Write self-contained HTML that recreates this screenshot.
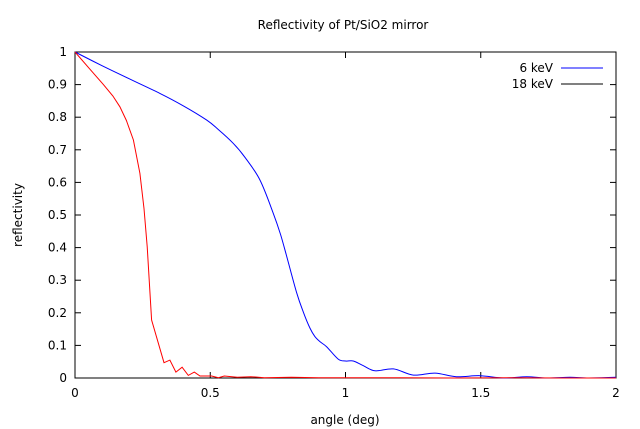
<!DOCTYPE html>
<html><head><meta charset="utf-8"><style>
body{margin:0;background:#fff;}
svg{display:block;font-family:"DejaVu Sans","Liberation Sans",sans-serif;font-size:12px;}
</style></head><body>
<svg id="chart" width="640" height="429">
<text x="343" y="29" text-anchor="middle">Reflectivity of Pt/SiO2 mirror</text>
<text x="345" y="424" text-anchor="middle">angle (deg)</text>
<text transform="translate(22,215) rotate(-90)" text-anchor="middle">reflectivity</text>
<g id="axes"></g>
<g id="series"></g>
<text x="553" y="72" text-anchor="end">6 keV</text>
<line x1="561" y1="68" x2="603" y2="68" stroke="#0000ff"/>
<text x="553" y="88" text-anchor="end">18 keV</text>
<line x1="561" y1="84" x2="603" y2="84" stroke="#000"/>
</svg>
<script>
const xTicks=[0,0.5,1,1.5,2];
const xTickLabels=["0","0.5","1","1.5","2"];
const yTicks=[0,0.1,0.2,0.3,0.4,0.5,0.6,0.7,0.8,0.9,1];
const yTickLabels=["0","0.1","0.2","0.3","0.4","0.5","0.6","0.7","0.8","0.9","1"];
const x6=[0,0.1,0.2,0.314,0.4,0.487,0.53,0.585,0.63,0.684,0.733,0.76,0.783,0.82,0.845,0.869,0.887,0.906,0.93,0.973,1.0,1.029,1.065,1.109,1.177,1.251,1.331,1.41,1.497,1.583,1.67,1.744,1.83,1.9,2.0];
const y6=[1,0.958,0.918,0.873,0.835,0.791,0.762,0.72,0.675,0.607,0.505,0.44,0.372,0.26,0.2,0.152,0.127,0.111,0.096,0.058,0.052,0.052,0.038,0.022,0.028,0.009,0.015,0.004,0.007,0.0,0.004,0,0.002,0,0.002];
const x18=[0,0.05,0.105,0.14,0.166,0.19,0.216,0.24,0.255,0.267,0.283,0.329,0.351,0.373,0.396,0.419,0.441,0.462,0.505,0.53,0.552,0.6,0.65,0.7,0.8,0.9,1.0,1.2,1.4,1.6,1.8,2.0];
const y18=[1,0.952,0.9,0.865,0.832,0.79,0.73,0.628,0.52,0.403,0.178,0.047,0.055,0.018,0.033,0.008,0.018,0.006,0.006,0.001,0.006,0.002,0.004,0.001,0.002,0.001,0.001,0.001,0.0,0.001,0.0,0.0];
const L=75,R=616,T=52,B=378;
const sx=v=>L+(v-0)/(2-0)*(R-L);
const sy=v=>B-(v-0)/(1-0)*(B-T);
const NS="http://www.w3.org/2000/svg";
const axes=document.getElementById('axes');
function mk(tag,attrs,parent){const e=document.createElementNS(NS,tag);for(const k in attrs)e.setAttribute(k,attrs[k]);parent.appendChild(e);return e;}
xTicks.forEach((v,i)=>{
  const x=sx(v);
  const t1=mk('line',{x1:x,y1:B,x2:x,y2:B-6,stroke:'#000'},axes);
  
  
  const t2=mk('line',{x1:x,y1:T,x2:x,y2:T+6,stroke:'#000'},axes);
  
  
  const tx=mk('text',{x:x,y:B+19,'text-anchor':'middle'},axes);
  tx.textContent=xTickLabels[i];
  
  
});
yTicks.forEach((v,i)=>{
  const y=sy(v);
  const t1=mk('line',{x1:L,y1:y,x2:L+6,y2:y,stroke:'#000'},axes);
  
  
  const t2=mk('line',{x1:R,y1:y,x2:R-6,y2:y,stroke:'#000'},axes);
  
  
  const tx=mk('text',{x:L-8,y:y+4,'text-anchor':'end'},axes);
  tx.textContent=yTickLabels[i];
  
  
});
const frame=mk('rect',{x:L,y:T,width:R-L,height:B-T,fill:'none',stroke:'#000'},axes);


const ser=document.getElementById('series');
function line(xs,ys,color,name,smooth){
  const P=xs.map((v,i)=>[sx(v),sy(ys[i])]);
  let d='M'+P[0][0].toFixed(1)+','+P[0][1].toFixed(1);
  for(let i=0;i<P.length-1;i++){
    if(!smooth){d+=' L'+P[i+1][0].toFixed(1)+','+P[i+1][1].toFixed(1);continue;}
    const p0=P[Math.max(0,i-1)],p1=P[i],p2=P[i+1],p3=P[Math.min(P.length-1,i+2)];
    const c1=[p1[0]+(p2[0]-p0[0])/6,p1[1]+(p2[1]-p0[1])/6];
    const c2=[p2[0]-(p3[0]-p1[0])/6,p2[1]-(p3[1]-p1[1])/6];
    d+=' C'+c1.map(v=>v.toFixed(1)).join(',')+' '+c2.map(v=>v.toFixed(1)).join(',')+' '+p2[0].toFixed(1)+','+p2[1].toFixed(1);
  }
  const p=mk('path',{d:d,fill:'none',stroke:color,'stroke-width':1},ser);
  
  
}
line(x6,y6,'#0000ff','series-6kev',true);
line(x18,y18,'#ff0000','series-18kev',false);
</script>
</body></html>
